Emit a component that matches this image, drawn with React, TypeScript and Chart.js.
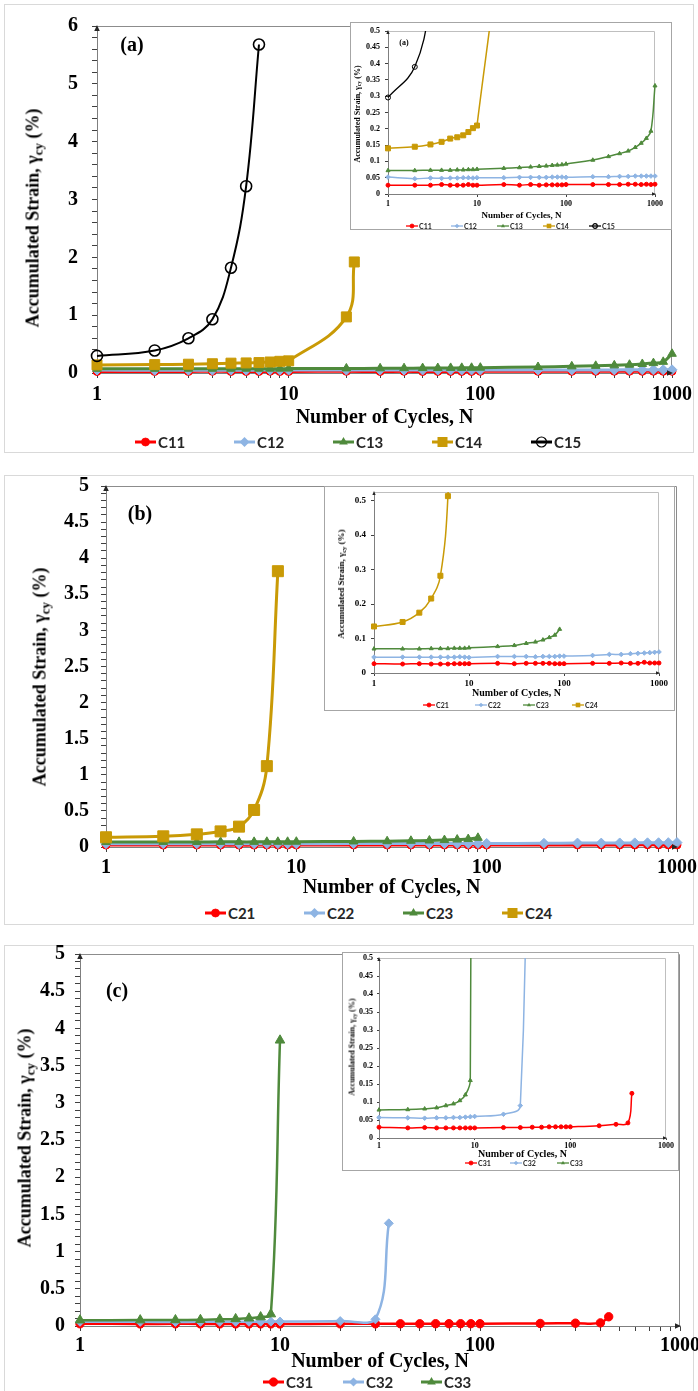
import React, { useEffect, useRef } from 'react';
import { Chart, registerables } from 'chart.js';

Chart.register(...registerables);

const SERIF = '"Liberation Serif", "Times New Roman", serif';
const SANS = 'Lato, "Liberation Sans", Arial, sans-serif';

// ---------- DATA ----------
const N_ALL = [1, 2, 3, 4, 5, 6, 7, 8, 9, 10, 20, 30, 40, 50, 60, 70, 80, 90, 100, 200, 300, 400, 500, 600, 700, 800, 900, 1000];

// Panel (a)
const C11_Y = [0.027, 0.027, 0.027, 0.029, 0.027, 0.027, 0.027, 0.029, 0.027, 0.027, 0.029, 0.027, 0.029, 0.027, 0.028, 0.028, 0.028, 0.028, 0.029, 0.029, 0.029, 0.029, 0.03, 0.03, 0.029, 0.03, 0.029, 0.03];
const C12_Y = [0.052, 0.047, 0.049, 0.048, 0.049, 0.049, 0.05, 0.05, 0.049, 0.05, 0.05, 0.051, 0.051, 0.051, 0.051, 0.052, 0.052, 0.052, 0.051, 0.053, 0.053, 0.054, 0.054, 0.055, 0.055, 0.055, 0.055, 0.055];
const C13_Y = [0.072, 0.072, 0.073, 0.073, 0.073, 0.074, 0.074, 0.075, 0.075, 0.076, 0.079, 0.081, 0.083, 0.085, 0.086, 0.088, 0.089, 0.09, 0.092, 0.104, 0.115, 0.124, 0.132, 0.143, 0.156, 0.171, 0.193, 0.332];
const C14_N = [1, 2, 3, 4, 5, 6, 7, 8, 9, 10, 20, 22];
const C14_Y = [0.14, 0.145, 0.152, 0.16, 0.17, 0.174, 0.18, 0.19, 0.202, 0.21, 0.97, 1.92];
const C15_N = [1, 2, 3, 4, 5, 6, 7];
const C15_Y = [0.296, 0.39, 0.6, 0.93, 1.82, 3.23, 5.68];

// Panel (b)
const C21_Y = [0.027, 0.026, 0.027, 0.026, 0.026, 0.026, 0.027, 0.027, 0.027, 0.027, 0.028, 0.027, 0.028, 0.028, 0.028, 0.028, 0.027, 0.027, 0.027, 0.028, 0.028, 0.029, 0.028, 0.028, 0.031, 0.029, 0.029, 0.029];
const C22_Y = [0.046, 0.046, 0.046, 0.046, 0.046, 0.046, 0.046, 0.047, 0.046, 0.045, 0.048, 0.048, 0.048, 0.047, 0.048, 0.048, 0.048, 0.049, 0.049, 0.051, 0.054, 0.054, 0.056, 0.057, 0.058, 0.059, 0.06, 0.061];
const C23_N = [1, 2, 3, 4, 5, 6, 7, 8, 9, 10, 20, 30, 40, 50, 60, 70, 80, 90];
const C23_Y = [0.07, 0.07, 0.07, 0.071, 0.071, 0.071, 0.072, 0.072, 0.072, 0.073, 0.077, 0.08, 0.086, 0.09, 0.096, 0.103, 0.11, 0.127];
const C24_N = [1, 2, 3, 4, 5, 6, 7, 8];
const C24_Y = [0.135, 0.148, 0.175, 0.216, 0.282, 0.513, 1.12, 3.82];

// Panel (c)
const C31_N = [1, 2, 3, 4, 5, 6, 7, 8, 9, 10, 20, 30, 40, 50, 60, 70, 80, 90, 100, 200, 300, 400, 440];
const C31_Y = [0.03, 0.028, 0.029, 0.028, 0.028, 0.028, 0.028, 0.028, 0.028, 0.028, 0.029, 0.029, 0.03, 0.03, 0.031, 0.031, 0.031, 0.031, 0.031, 0.034, 0.038, 0.042, 0.124];
const C32_N = [1, 2, 3, 4, 5, 6, 7, 8, 9, 10, 20, 30, 35];
const C32_Y = [0.057, 0.056, 0.055, 0.056, 0.056, 0.057, 0.057, 0.058, 0.059, 0.06, 0.066, 0.09, 1.38];
const C33_N = [1, 2, 3, 4, 5, 6, 7, 8, 9, 10];
const C33_Y = [0.078, 0.079, 0.081, 0.084, 0.09, 0.095, 0.104, 0.12, 0.16, 3.84];

// Tick labels
const X_LABELS = [1, 10, 100, 1000];
const Y_MAX_A = 6;
const Y_MAX_BC = 5;
const Y_MAX_INSET = 0.5;
const Y_MAX_INSET_B = 0.525;

const X_TITLE = 'Number of Cycles, N';

// ---------- STYLES ----------
type Shape = 'circle' | 'rectRot' | 'triangle' | 'rect';
interface SeriesStyle { color: string; shape: Shape; open?: boolean }
const RED = '#FF0000';
const BLUE = '#8EB4E3';
const GREEN = '#4F8A3C';
const GOLD = '#C99A06';
const BLACK = '#000000';
const S_RED: SeriesStyle = { color: RED, shape: 'circle' };
const S_BLUE: SeriesStyle = { color: BLUE, shape: 'rectRot' };
const S_GREEN: SeriesStyle = { color: GREEN, shape: 'triangle' };
const S_GOLD: SeriesStyle = { color: GOLD, shape: 'rect' };
const S_BLACK: SeriesStyle = { color: BLACK, shape: 'circle', open: true };

function series(label: string, xs: number[], ys: number[], st: SeriesStyle, lw: number, r: number, inset: boolean) {
  const radius = st.shape === 'rect' ? r * 1.4142 : r;
  return {
    label,
    data: xs.map((x, i) => ({ x, y: ys[i] })),
    borderColor: st.color,
    backgroundColor: st.color,
    borderWidth: lw,
    tension: 0.4,
    pointStyle: st.shape,
    pointRadius: radius,
    pointHoverRadius: radius,
    pointBackgroundColor: st.open ? 'rgba(255,255,255,0)' : st.color,
    pointBorderColor: st.color,
    pointBorderWidth: st.open ? (inset ? 1 : 1.6) : 1,
    clip: inset ? { left: 8, right: 8, top: 0, bottom: 8 } : false,
  };
}

function minorTicks(max: number, step: number) {
  const out: number[] = [];
  const n = Math.round(max / step);
  for (let i = 0; i <= n; i++) out.push(+(i * step).toFixed(4));
  return out;
}

interface Geo { cw: number; ch: number; l: number; t: number; r: number; b: number; titleY: number }
interface ChartSpec {
  datasets: any[];
  geo: Geo;
  yMax: number;
  yTicks: number[];
  yLabelStep: number;
  xTicks: number[];
  tickSize: number;
  yTickSize: number;
  titleSize: number;
  xTickLen: number;
  xTickPad: number;
  yTickLen: number;
  yTickPad: number;
  frameColor: string;
  arrow: number;
}

function makeChart(canvas: HTMLCanvasElement, spec: ChartSpec) {
  const g = spec.geo;
  const lh = spec.titleSize * 1.2;
  const axisBottom = g.titleY + lh / 2;
  const frame = {
    id: 'frame',
    beforeDatasetsDraw(chart: any) {
      const { ctx, chartArea: a } = chart;
      ctx.save();
      ctx.strokeStyle = spec.frameColor;
      ctx.lineWidth = 1;
      ctx.beginPath();
      ctx.moveTo(a.left, a.top + 0.5);
      ctx.lineTo(a.right - 0.5, a.top + 0.5);
      ctx.lineTo(a.right - 0.5, a.bottom);
      ctx.stroke();
      ctx.restore();
    },
    afterDraw(chart: any) {
      const { ctx, chartArea: a } = chart;
      const s = spec.arrow;
      ctx.save();
      ctx.fillStyle = '#262626';
      ctx.beginPath();
      ctx.moveTo(a.left, a.top - 1);
      ctx.lineTo(a.left - s * 0.55, a.top + s);
      ctx.lineTo(a.left + s * 0.55, a.top + s);
      ctx.closePath();
      ctx.fill();
      ctx.beginPath();
      ctx.moveTo(a.right + 1, a.bottom);
      ctx.lineTo(a.right - s, a.bottom - s * 0.55);
      ctx.lineTo(a.right - s, a.bottom + s * 0.55);
      ctx.closePath();
      ctx.fill();
      ctx.restore();
    },
  };
  const isLabel = (v: number) => Math.abs(v / spec.yLabelStep - Math.round(v / spec.yLabelStep)) < 1e-6;
  return new Chart(canvas, {
    type: 'line',
    data: { datasets: spec.datasets },
    options: {
      animation: false,
      responsive: false,
      maintainAspectRatio: false,
      events: [],
      layout: { padding: { left: 0, top: g.t, right: g.cw - g.r, bottom: g.ch - axisBottom } },
      plugins: { legend: { display: false }, tooltip: { enabled: false } },
      scales: {
        x: {
          type: 'logarithmic',
          min: 1,
          max: 1000,
          afterBuildTicks: (s: any) => { s.ticks = spec.xTicks.map((v) => ({ value: v })); },
          afterFit: (s: any) => { s.height = axisBottom - g.b; },
          ticks: {
            autoSkip: false,
            maxRotation: 0,
            minRotation: 0,
            padding: spec.xTickPad,
            color: '#000',
            font: { family: SERIF, weight: 'bold', size: spec.tickSize },
            callback: (v: any) => (X_LABELS.includes(Number(v)) ? String(v) : ''),
          },
          grid: { drawOnChartArea: false, drawTicks: true, tickLength: spec.xTickLen, tickColor: '#404040', tickWidth: 1 },
          border: { display: true, color: '#7f7f7f', width: 1 },
          title: { display: true, text: X_TITLE, color: '#000', padding: 0, font: { family: SERIF, weight: 'bold', size: spec.titleSize } },
        },
        y: {
          type: 'linear',
          min: 0,
          max: spec.yMax,
          afterBuildTicks: (s: any) => { s.ticks = spec.yTicks.map((v) => ({ value: v })); },
          afterFit: (s: any) => { s.width = g.l; },
          ticks: {
            autoSkip: false,
            padding: spec.yTickPad,
            color: '#000',
            font: { family: SERIF, weight: 'bold', size: spec.yTickSize },
            callback: (v: any) => (isLabel(Number(v)) ? String(+Number(v).toFixed(3)) : ''),
          },
          grid: { drawOnChartArea: false, drawTicks: true, tickLength: spec.yTickLen, tickColor: '#404040', tickWidth: 1 },
          border: { display: true, color: '#7f7f7f', width: 1 },
        },
      },
    } as any,
    plugins: [frame],
  });
}

function ChartCanvas({ left, top, spec }: { left: number; top: number; spec: ChartSpec }) {
  const ref = useRef<HTMLCanvasElement>(null);
  useEffect(() => {
    const chart = makeChart(ref.current as HTMLCanvasElement, spec);
    return () => chart.destroy();
  }, []);
  return (
    <canvas
      ref={ref}
      width={spec.geo.cw}
      height={spec.geo.ch}
      style={{ position: 'absolute', left, top, width: spec.geo.cw, height: spec.geo.ch }}
    />
  );
}

// ---------- HTML helpers ----------
function Centered({ x, y, children, style }: { x: number; y: number; children: any; style?: any }) {
  return (
    <div style={{ position: 'absolute', left: x, top: y, transform: 'translate(-50%,-50%)', whiteSpace: 'nowrap', lineHeight: 1, ...style }}>
      {children}
    </div>
  );
}

function YTitle({ x, y, size }: { x: number; y: number; size: number }) {
  return (
    <div
      style={{
        position: 'absolute', left: x, top: y, transform: 'translate(-50%,-50%) rotate(-90deg)',
        whiteSpace: 'nowrap', lineHeight: 1, font: `bold ${size}px ${SERIF}`, color: '#000',
      }}
    >
      Accumulated Strain, γ<sub style={{ fontSize: '0.72em', verticalAlign: '-0.28em', lineHeight: 0 }}>cy</sub> (%)
    </div>
  );
}

function MarkerSvg({ st, r, lineW, lw, h }: { st: SeriesStyle; r: number; lineW: number; lw: number; h: number }) {
  const cx = lineW / 2;
  const cy = h / 2;
  const fill = st.open ? 'none' : st.color;
  let shape: any = null;
  if (st.shape === 'circle') shape = <circle cx={cx} cy={cy} r={r} fill={fill} stroke={st.color} strokeWidth={st.open ? 1.2 : 0.8} />;
  else if (st.shape === 'rectRot') shape = <polygon points={`${cx},${cy - r} ${cx + r},${cy} ${cx},${cy + r} ${cx - r},${cy}`} fill={fill} />;
  else if (st.shape === 'triangle') shape = <polygon points={`${cx},${cy - r} ${cx + r * 0.866},${cy + r * 0.5} ${cx - r * 0.866},${cy + r * 0.5}`} fill={fill} />;
  else shape = <rect x={cx - r} y={cy - r} width={2 * r} height={2 * r} fill={fill} />;
  return (
    <svg width={lineW} height={h} style={{ display: 'block' }}>
      <line x1={0} y1={cy} x2={lineW} y2={cy} stroke={st.color} strokeWidth={lw} />
      {shape}
    </svg>
  );
}

function Legend({ y, xs, names, styles, radii, lineW, lw, fontSize, gap }: {
  y: number; xs: number[]; names: string[]; styles: SeriesStyle[]; radii: number[]; lineW: number; lw: number; fontSize: number; gap: number;
}) {
  const h = 16;
  return (
    <>
      {names.map((n, i) => (
        <div key={n} style={{ position: 'absolute', left: xs[i], top: y - h / 2, height: h, display: 'flex', alignItems: 'center', whiteSpace: 'nowrap' }}>
          <MarkerSvg st={styles[i]} r={radii[i]} lineW={lineW} lw={lw} h={h} />
          <span style={{ marginLeft: gap, font: `bold ${fontSize}px ${SANS}`, color: '#262626', lineHeight: 1 }}>{n}</span>
        </div>
      ))}
    </>
  );
}

function Box({ left, top, width, height, color, bg }: { left: number; top: number; width: number; height: number; color: string; bg?: string }) {
  return (
    <div style={{ position: 'absolute', left, top, width, height, boxSizing: 'border-box', border: `1px solid ${color}`, background: bg || 'transparent' }} />
  );
}

// ---------- SPECS ----------
const mainTickCfg = { tickSize: 20, yTickSize: 20, titleSize: 20, frameColor: '#8c8c8c', arrow: 5 };

const specA: ChartSpec = {
  ...mainTickCfg,
  datasets: [
    series('C15', C15_N, C15_Y, S_BLACK, 2, 5.5, false),
    series('C14', C14_N, C14_Y, S_GOLD, 3, 5, false),
    series('C13', N_ALL, C13_Y, S_GREEN, 3, 5, false),
    series('C12', N_ALL, C12_Y, S_BLUE, 3, 5, false),
    series('C11', N_ALL, C11_Y, S_RED, 3, 4, false),
  ],
  geo: { cw: 760, ch: 440, l: 97, t: 22, r: 672, b: 373, titleY: 418 },
  yMax: Y_MAX_A, yTicks: minorTicks(Y_MAX_A, 0.2), yLabelStep: 1,
  xTicks: N_ALL, xTickLen: 5, xTickPad: 5, yTickLen: 5, yTickPad: 14,
};

const specAi: ChartSpec = {
  datasets: [
    series('C15', C15_N, C15_Y, S_BLACK, 1.3, 2.5, true),
    series('C14', C14_N, C14_Y, S_GOLD, 1.5, 2.5, true),
    series('C13', N_ALL, C13_Y, S_GREEN, 1.5, 2.3, true),
    series('C12', N_ALL, C12_Y, S_BLUE, 1.5, 2.3, true),
    series('C11', N_ALL, C11_Y, S_RED, 1.5, 2, true),
  ],
  geo: { cw: 360, ch: 218, l: 38, t: 19, r: 305, b: 182, titleY: 204 },
  yMax: Y_MAX_INSET, yTicks: minorTicks(Y_MAX_INSET, 0.05), yLabelStep: 0.05,
  xTicks: X_LABELS, tickSize: 8, yTickSize: 8, titleSize: 9, xTickLen: 3, xTickPad: 2, yTickLen: 3, yTickPad: 5,
  frameColor: '#bfbfbf', arrow: 3,
};

const specB: ChartSpec = {
  ...mainTickCfg,
  datasets: [
    series('C24', C24_N, C24_Y, S_GOLD, 3, 5.5, false),
    series('C23', C23_N, C23_Y, S_GREEN, 3, 5, false),
    series('C22', N_ALL, C22_Y, S_BLUE, 3, 5, false),
    series('C21', N_ALL, C21_Y, S_RED, 3, 4, false),
  ],
  geo: { cw: 760, ch: 440, l: 106, t: 26, r: 677, b: 387, titleY: 428 },
  yMax: Y_MAX_BC, yTicks: minorTicks(Y_MAX_BC, 0.1), yLabelStep: 0.5,
  xTicks: N_ALL, xTickLen: 5, xTickPad: 4, yTickLen: 5, yTickPad: 12,
};

const specBi: ChartSpec = {
  datasets: [
    series('C24', C24_N, C24_Y, S_GOLD, 1.5, 2.5, true),
    series('C23', C23_N, C23_Y, S_GREEN, 1.5, 2.3, true),
    series('C22', N_ALL, C22_Y, S_BLUE, 1.5, 2.3, true),
    series('C21', N_ALL, C21_Y, S_RED, 1.5, 2, true),
  ],
  geo: { cw: 400, ch: 235, l: 50, t: 16, r: 335, b: 197, titleY: 217 },
  yMax: Y_MAX_INSET_B, yTicks: minorTicks(0.5, 0.1), yLabelStep: 0.1,
  xTicks: X_LABELS, tickSize: 9, yTickSize: 9, titleSize: 10, xTickLen: 3, xTickPad: 2, yTickLen: 3, yTickPad: 5,
  frameColor: '#bfbfbf', arrow: 3,
};

const specC: ChartSpec = {
  ...mainTickCfg,
  datasets: [
    series('C33', C33_N, C33_Y, S_GREEN, 2.5, 5.5, false),
    series('C32', C32_N, C32_Y, S_BLUE, 2.5, 4.5, false),
    series('C31', C31_N, C31_Y, S_RED, 2.5, 4.2, false),
  ],
  geo: { cw: 760, ch: 460, l: 80, t: 34, r: 680, b: 406, titleY: 442 },
  yMax: Y_MAX_BC, yTicks: minorTicks(Y_MAX_BC, 0.1), yLabelStep: 0.5,
  xTicks: N_ALL, xTickLen: 5, xTickPad: 3, yTickLen: 5, yTickPad: 10,
};

const specCi: ChartSpec = {
  datasets: [
    series('C33', C33_N, C33_Y, S_GREEN, 1.5, 2.3, true),
    series('C32', C32_N, C32_Y, S_BLUE, 1.5, 2.3, true),
    series('C31', C31_N, C31_Y, S_RED, 1.5, 2, true),
  ],
  geo: { cw: 380, ch: 229, l: 37, t: 16, r: 324, b: 196, titleY: 212 },
  yMax: Y_MAX_INSET, yTicks: minorTicks(Y_MAX_INSET, 0.05), yLabelStep: 0.05,
  xTicks: X_LABELS, tickSize: 8, yTickSize: 8, titleSize: 10, xTickLen: 2, xTickPad: 1, yTickLen: 2, yTickPad: 4,
  frameColor: '#bfbfbf', arrow: 3,
};

const PANEL_BORDER = '#d9d9d9';
const INSET_BORDER = '#a6a6a6';

export default function App() {
  return (
    <div style={{ position: 'absolute', left: 0, top: 0, width: 698, height: 1391, overflow: 'hidden', background: '#fff' }}>
      {/* Panel (a) */}
      <Box left={4} top={4} width={690} height={449} color={PANEL_BORDER} />
      <ChartCanvas left={0} top={0} spec={specA} />
      <YTitle x={33} y={218} size={18} />
      <Centered x={132} y={44} style={{ font: `bold 20px ${SERIF}` }}>(a)</Centered>
      <Legend y={442} xs={[135, 234, 333, 432, 531]} names={['C11', 'C12', 'C13', 'C14', 'C15']}
        styles={[S_RED, S_BLUE, S_GREEN, S_GOLD, S_BLACK]} radii={[4, 5, 5, 5, 5]} lineW={21} lw={3} fontSize={15} gap={2} />
      <Box left={350} top={22} width={322} height={208} color={INSET_BORDER} bg="#fff" />
      <ChartCanvas left={350} top={12} spec={specAi} />
      <YTitle x={357} y={114} size={8} />
      <Centered x={404} y={42} style={{ font: `bold 8px ${SERIF}` }}>(a)</Centered>
      <Legend y={226} xs={[406, 451, 497, 543, 589]} names={['C11', 'C12', 'C13', 'C14', 'C15']}
        styles={[S_RED, S_BLUE, S_GREEN, S_GOLD, S_BLACK]} radii={[2, 2.3, 2.3, 2.3, 2.3]} lineW={12} lw={1.3} fontSize={7} gap={1} />

      {/* Panel (b) */}
      <Box left={4} top={475} width={690} height={450} color={PANEL_BORDER} />
      <ChartCanvas left={0} top={460} spec={specB} />
      <YTitle x={40} y={677} size={18} />
      <Centered x={140} y={513} style={{ font: `bold 20px ${SERIF}` }}>(b)</Centered>
      <Legend y={913} xs={[205, 304, 403, 502]} names={['C21', 'C22', 'C23', 'C24']}
        styles={[S_RED, S_BLUE, S_GREEN, S_GOLD]} radii={[4, 5, 5, 5]} lineW={21} lw={3} fontSize={15} gap={2} />
      <Box left={324} top={486} width={351} height={225} color={INSET_BORDER} bg="#fff" />
      <ChartCanvas left={324} top={476} spec={specBi} />
      <YTitle x={341} y={584} size={9} />
      <Legend y={705} xs={[423, 475, 523, 572]} names={['C21', 'C22', 'C23', 'C24']}
        styles={[S_RED, S_BLUE, S_GREEN, S_GOLD]} radii={[2, 2.3, 2.3, 2.3]} lineW={12} lw={1.3} fontSize={7} gap={1} />

      {/* Panel (c) */}
      <Box left={4} top={945} width={690} height={470} color={PANEL_BORDER} />
      <ChartCanvas left={0} top={920} spec={specC} />
      <YTitle x={25} y={1138} size={18} />
      <Centered x={117} y={990} style={{ font: `bold 20px ${SERIF}` }}>(c)</Centered>
      <Legend y={1382} xs={[263, 343, 421]} names={['C31', 'C32', 'C33']}
        styles={[S_RED, S_BLUE, S_GREEN]} radii={[4.2, 4.5, 5]} lineW={21} lw={3} fontSize={15} gap={2} />
      <Box left={342} top={952} width={337} height={219} color={INSET_BORDER} bg="#fff" />
      <ChartCanvas left={342} top={942} spec={specCi} />
      <YTitle x={352} y={1047} size={8} />
      <Legend y={1163} xs={[465, 510, 557]} names={['C31', 'C32', 'C33']}
        styles={[S_RED, S_BLUE, S_GREEN]} radii={[2, 2.3, 2.3]} lineW={12} lw={1.3} fontSize={7} gap={1} />
    </div>
  );
}
